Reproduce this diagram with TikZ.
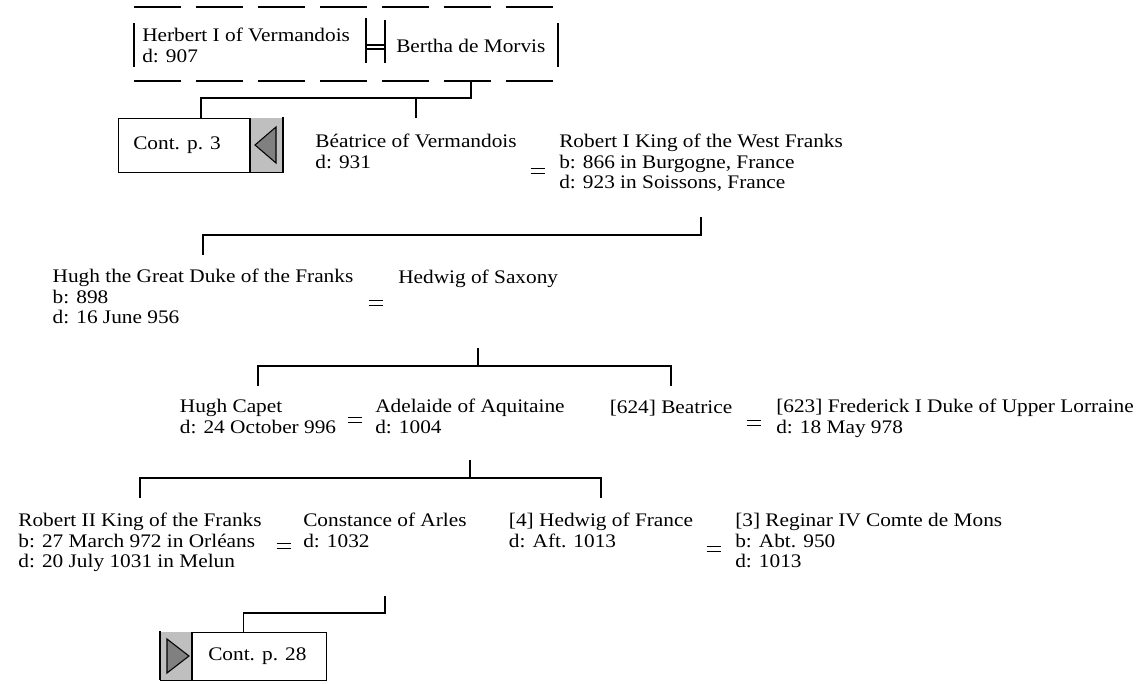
\documentclass[tikz,border=0pt]{standalone}
\usepackage{fontspec}
\setmainfont{Liberation Serif}[FakeStretch=1.11]
\usetikzlibrary{shapes}

\tikzset{
  person/.style={align=left, inner sep=0pt, anchor=north, font=\fontsize{14.4pt}{15.4pt}\selectfont, execute at begin node=\strut},
  spouse/.style={person, anchor=north west},
  bar/.style={line width=1.1pt},
  wed/.style={inner sep=0pt, minimum width=10.5pt, minimum height=3pt,
    append after command={(\tikzlastnode.north west) edge[bar] (\tikzlastnode.north east)
      (\tikzlastnode.south west) edge[bar] (\tikzlastnode.south east)}},
  tree/.style={line width=1.1pt},
  thin/.style={line width=0.8pt},
  dashline/.style={thin, dash pattern=on 35.25pt off 11.25pt},
  contframe/.style={draw, line width=0.8pt, fill=white, inner sep=0pt, anchor=north west},
  conttext/.style={inner sep=0pt, anchor=west, font=\fontsize{14.4pt}{15.4pt}\selectfont}
}

\begin{document}
\begin{tikzpicture}[x=0.75pt, y=-0.75pt]
\useasboundingbox (0,0) rectangle (1141,683);

\draw[dashline] (134,7) -- (558,7);
\draw[dashline] (134,81) -- (558,81);
\draw[thin] (134,23) -- (134,67);
\draw[thin] (558,23) -- (558,67);
\draw[thin] (366,18) -- (366,63);
\draw[thin] (385,20) -- (385,63);
\draw[thin] (366,45) -- (385,45);
\draw[thin] (366,49) -- (385,49);
\node[spouse] (herb) at (142,28) {Herbert I of Vermandois\\d: 907};
\node[spouse] (bert) at (396,38) {Bertha de Morvis};

\node[contframe, minimum width=123.75pt, minimum height=40.5pt] (box3) at (118,118) {};
\node[conttext] (cont3) at (133,145) {Cont. p. 3};
\fill[black!25] (250,118) rectangle (283,172);
\draw[thin] (250,118) -- (250,172);
\draw[line width=1.6pt] (283,117) -- (283,172);
\filldraw[fill=black!50, thin] (255,145) -- (276,127) -- (276,163) -- cycle;

\node[person] (beat) at (416,134) {B\'{e}atrice of Vermandois\\d: 931};
\node[wed] (e2) at (538,171) {};
\node[spouse] (rob1) at (559,134) {Robert I King of the West Franks\\b: 866 in Burgogne, France\\d: 923 in Soissons, France};

\node[person] (hughg) at (203,269) {Hugh the Great Duke of the Franks\\b: 898\\d: 16 June 956};
\node[wed] (e3) at (376,303) {};
\node[spouse] (hedw) at (398,269) {Hedwig of Saxony};

\node[person] (capet) at (258,399) {Hugh Capet\\d: 24 October 996};
\node[wed] (e4) at (355,420) {};
\node[spouse] (adel) at (375,399) {Adelaide of Aquitaine\\d: 1004};
\node[person] (beat2) at (671,399) {[624] Beatrice};
\node[wed] (e5) at (754,423) {};
\node[spouse] (fred) at (776,399) {[623] Frederick I Duke of Upper Lorraine\\d: 18 May 978};

\node[person] (rob2) at (140,513) {Robert II King of the Franks\\b: 27 March 972 in Orl\'{e}ans\\d: 20 July 1031 in Melun};
\node[wed] (e6) at (284,546) {};
\node[spouse] (const) at (303,513) {Constance of Arles\\d: 1032};
\node[person] (hedf) at (601,513) {[4] Hedwig of France\\d: Aft. 1013};
\node[wed] (e7) at (714,549) {};
\node[spouse] (regi) at (735,513) {[3] Reginar IV Comte de Mons\\b: Abt. 950\\d: 1013};

\node[contframe, minimum width=124.5pt, minimum height=36pt] (box28) at (160,632) {};
\fill[black!25] (160,632) rectangle (192,680);
\draw[line width=1.6pt] (160,631) -- (160,680);
\draw[thin] (192,632) -- (192,680);
\filldraw[fill=black!50, thin] (189,656) -- (167,639) -- (167,673) -- cycle;
\node[conttext] (cont28) at (208,656) {Cont. p. 28};

\draw[tree] (bert |- 0,81) -- (bert |- 0,98) -| (box3.north);
\draw[tree] (bert |- 0,98) -| (beat |- 0,118);
\draw[tree] (rob1 |- 0,217) -- (rob1 |- 0,235) -| (hughg |- 0,255);
\draw[tree] (hedw |- 0,348) -- (hedw |- 0,366) -| (capet |- 0,386);
\draw[tree] (hedw |- 0,366) -| (beat2 |- 0,386);
\draw[tree] (adel |- 0,460) -- (adel |- 0,478) -| (rob2 |- 0,498);
\draw[tree] (adel |- 0,478) -| (hedf |- 0,498);
\draw[tree] (const |- 0,596) -- (const |- 0,613) -| (box28.north);
\end{tikzpicture}
\end{document}
